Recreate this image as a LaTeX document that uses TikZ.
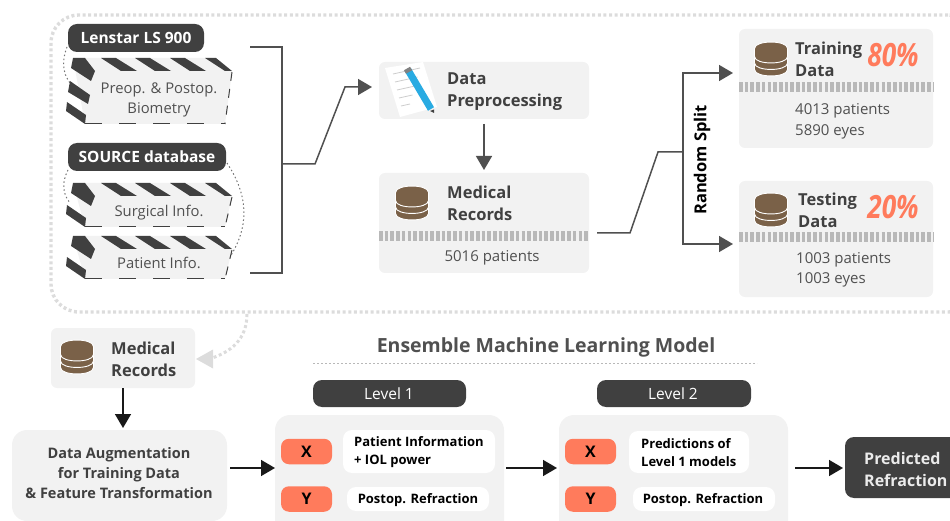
\documentclass[tikz,border=0pt]{standalone}
\usepackage{fontspec}
\setmainfont{Open Sans}
\usetikzlibrary{arrows.meta,positioning}

\definecolor{paleg}{HTML}{F2F2F2}
\definecolor{darkg}{HTML}{404040}
\definecolor{lineg}{HTML}{505050}
\definecolor{dotg}{HTML}{DCDCDC}
\definecolor{stripg}{HTML}{B8B8B8}
\definecolor{brownd}{HTML}{7A6148}
\definecolor{coral}{HTML}{FF7B5C}
\definecolor{pencil}{HTML}{29ABE2}

\tikzset{
	db icon/.pic={
		\foreach \y in {2.5,-4,-10.5}
			\path [fill=brownd,draw=white,line width=.9pt] (-16.5,\y) -- (-16.5,\y+8)
				.. controls (-16.5,\y+16.6) and (16.5,\y+16.6) .. (16.5,\y+8) -- (16.5,\y)
				.. controls (16.5,\y-8.6) and (-16.5,\y-8.6) .. cycle;
	},
	stripe card/.pic={
		\fill [paleg] (0,0) -- (139,0) -- (159,14) -- (152,#1) -- (12,#1) -- cycle;
		\foreach \x in {28,62,97}
			\fill [darkg] (\x,0) -- (\x+15,0) -- (\x+36,13) -- (\x+20,13) -- cycle;
		\fill [darkg] (132,0) -- (143,0) -- (159,13) -- (152,13) -- cycle;
		\fill [darkg] (0,0) -- (12,0) -- (22,13) -- (18,23) -- (-2,10) -- cycle;
		\fill [darkg] (-6,#1-22) -- (13,#1-9) -- (12,#1) -- (-7,#1-13) -- cycle;
		\draw [darkg,line width=1pt,dash pattern=on 17pt off 17pt] (12,#1) -- (152,#1);
		\draw [darkg,line width=1pt,dash pattern=on 9pt off 8pt] (159,14) -- (152,#1);
	}
}

\begin{document}
\begin{tikzpicture}
	[x=1pt,y=-1pt,
	pale box/.style={shape=rectangle,fill=paleg,rounded corners=6pt,inner sep=0pt,outer sep=0pt},
	big box/.style={pale box,rounded corners=15pt},
	dark pill/.style={shape=rectangle,fill=darkg,rounded corners=9pt,inner sep=0pt,outer sep=0pt,text=white},
	x pill/.style={shape=rectangle,fill=coral,rounded corners=8pt,inner sep=0pt,outer sep=0pt,minimum width=51pt,minimum height=25.5pt,font=\fontsize{16}{20}\selectfont\bfseries,text=black},
	white box/.style={shape=rectangle,fill=white,rounded corners=9pt,inner sep=0pt,outer sep=0pt},
	head text/.style={anchor=west,align=left,inner sep=0pt,text=darkg,font=\fontsize{16.5}{22}\selectfont\bfseries},
	body text/.style={anchor=west,align=left,inner sep=0pt,text=lineg,font=\fontsize{15}{20.5}\selectfont},
	card text/.style={align=center,inner sep=0pt,text=lineg,font=\fontsize{14.8}{20}\selectfont},
	small text/.style={inner sep=0pt,text=black,font=\fontsize{13}{18}\selectfont\bfseries},
	pct text/.style={inner sep=0pt,text=coral,xscale=.82,font=\fontsize{32}{32}\selectfont\bfseries\itshape},
	strip/.style={stripg,line width=10pt,dash pattern=on 3.6pt off 2.1pt},
	grey arrow/.style={lineg,line width=1.5pt,-{Triangle[length=14pt,width=16pt]}},
	black arrow/.style={black!90,line width=1.5pt,-{Triangle[length=14pt,width=16pt]}},
	fine dots/.style={lineg!80,line width=1pt,dash pattern=on 1.5pt off 2.5pt}]
	
	\path [use as bounding box,clip] (0,0) rectangle (950,521);
	
	\node [shape=rectangle,draw=dotg,line width=3.4pt,dash pattern=on 3pt off 2.6pt,rounded corners=28pt,inner sep=0pt,minimum width=925pt,minimum height=297pt] (frame) at (513.5,163.5) {};
	
	% source cards
	\draw [fine dots] (67,47) .. controls (62,60) and (62,72) .. (70,83);
	\draw [fine dots] (68,170) .. controls (62,182) and (62,193) .. (70,203);
	\draw [fine dots] (227,163) .. controls (248,195) and (250,225) .. (230,257);
	\pic at (73,58) {stripe card=66};
	\fill [darkg] (70,81) -- (90,95) -- (88,104) -- (68,92) -- cycle;
	\pic at (73,183) {stripe card=44};
	\pic at (73,236) {stripe card=43};
	\node [dark pill,minimum width=136pt,minimum height=28pt] (lenstar) at (136,38) {};
	\node [inner sep=0pt,text=white,font=\fontsize{15.5}{20}\selectfont\bfseries] (lenstarT) at (136,38) {Lenstar LS 900};
	\node [dark pill,minimum width=158pt,minimum height=28pt] (source) at (147,157) {};
	\node [inner sep=0pt,text=white,font=\fontsize{15.5}{20}\selectfont\bfseries] (sourceT) at (147,157) {SOURCE database};
	\node [card text] (bio) at (159,99.5) {Preop. \& Postop.\\Biometry};
	\node [card text] (surg) at (159,213) {Surgical Info.};
	\node [card text] (pat) at (159,263) {Patient Info.};
	
	\coordinate (b1) at (250,47);
	\coordinate (b2) at (282,47);
	\coordinate (b3) at (282,273);
	\coordinate (b4) at (250,273);
	\coordinate (bm) at (282,164);
	\coordinate (bk) at (315,164);
	\coordinate (bt) at (345,87);
	\coordinate (bz) at (372,87);
	\draw [lineg,line width=1.5pt] (b1) -- (b2) -- (b3) -- (b4);
	\draw [grey arrow] (bm) -- (bk) -- (bt) -- (bz);
	
	% data preprocessing
	\node [pale box,minimum width=210pt,minimum height=57pt] (prep) at (484,90.5) {};
	\fill [white] (385,68) -- (423,62) -- (437,107) -- (400,117) -- cycle;
	\foreach \i in {0,1,2,3,4}
		\draw [black!20,line width=.8pt] (393+\i*2,74+\i*8) -- (420+\i*.5-\i*3,68+\i*9);
	\draw [pencil,line width=7pt] (408,70) -- (431,109);
	\draw [stripg!70!black,line width=7pt] (407,68.5) -- (409,72);
	\fill [darkg] (430,111) -- (434,109.5) -- (434,113) -- cycle;
	\node [head text] (prepT) at (447,91.5) {Data\\Preprocessing};
	
	% medical records
	\node [pale box,minimum width=210pt,minimum height=100pt] (rec) at (484,223) {};
	\draw [strip] (379,236.5) -- (589,236.5);
	\pic at (412,203) {db icon};
	\node [head text] (recT) at (447,203) {Medical\\Records};
	\node [body text,anchor=center] (recN) at (492,257.5) {5016 patients};
	\path [grey arrow] (prep) edge [shorten <=5pt,shorten >=3pt] (rec);
	
	% split
	\coordinate (s1) at (597,233);
	\coordinate (s2) at (630,233);
	\coordinate (s3) at (658,152);
	\coordinate (s4) at (683,152);
	\coordinate (s5) at (683,73);
	\coordinate (s6) at (683,244);
	\coordinate (s7) at (733,73);
	\coordinate (s8) at (733,244);
	\draw [lineg,line width=1.5pt] (s1) -- (s2) -- (s3) -- (s4);
	\node [pale box,minimum width=194pt,minimum height=119pt] (train) at (836,88.5) {};
	\node [pale box,minimum width=194pt,minimum height=116pt] (test) at (836,239) {};
	\draw [grey arrow] (s4) -- (s5) -- (s7);
	\draw [grey arrow] (s4) -- (s6) -- (s8);
	\node [rotate=90,inner sep=0pt,text=black,font=\fontsize{16.5}{20}\selectfont\bfseries] (split) at (702,160) {Random Split};
	
	\draw [strip] (739,87) -- (933,87);
	\pic at (771,59) {db icon};
	\node [head text] (trainT) at (795,59) {Training\\Data};
	\node [pct text] (p80) at (893,55) {80\%};
	\node [body text] (trainN) at (795,121.5) {4013 patients\\5890 eyes};
	
	\draw [strip] (739,237) -- (933,237);
	\pic at (771,210) {db icon};
	\node [head text] (testT) at (798,210) {Testing\\Data};
	\node [pct text] (p20) at (893,207) {20\%};
	\node [body text] (testN) at (796,270) {1003 patients\\1003 eyes};
	
	% lower part
	\node [pale box,minimum width=144pt,minimum height=60pt] (rec2) at (123,358) {};
	\pic at (77,357) {db icon};
	\node [head text] (rec2T) at (111,359) {Medical\\Records};
	\coordinate (d1) at (247,314);
	\coordinate (d2) at (212,358);
	\draw [dotg,line width=3pt,dash pattern=on 3pt off 2.6pt] (d1) .. controls (247,340) and (230,352) .. (d2);
	\fill [dotg] (196,359) -- (213,349.5) -- (213,368.5) -- cycle;
	
	\node [big box,minimum width=215pt,minimum height=91pt] (aug) at (119.5,475.5) {};
	\node [align=center,inner sep=0pt,text=darkg,font=\fontsize{14.5}{20}\selectfont\bfseries] (augT) at (119,473) {Data Augmentation\\for Training Data\\\& Feature Transformation};
	\path [black arrow] (rec2) edge [shorten >=2pt] (rec2 |- aug.north);
	
	\node [inner sep=0pt,text=lineg,font=\fontsize{19.5}{24}\selectfont\bfseries] (title) at (546,347.5) {Ensemble Machine Learning Model};
	\coordinate (t1) at (313,363);
	\coordinate (t2) at (757,363);
	\draw [stripg,line width=1pt,dash pattern=on 2pt off 2pt] (t1) -- (t2);
	
	\node [dark pill,minimum width=153pt,minimum height=27pt] (lv1) at (389.5,393.5) {};
	\node [inner sep=0pt,text=white,font=\fontsize{15.5}{20}\selectfont] (lv1T) at (389,393.5) {Level 1};
	\node [big box,minimum width=229pt,minimum height=130pt] (m1) at (389.5,480) {};
	\node [x pill] (x1) at (306.5,451.5) {X};
	\node [x pill] (y1) at (306.5,499) {Y};
	\node [white box,minimum width=152pt,minimum height=43pt] (w1) at (419,451.5) {};
	\node [small text,anchor=west,align=left] (w1T) at (354,452.5) {Patient Information\\+ IOL power};
	\node [white box,minimum width=142pt,minimum height=24pt] (w2) at (418,499) {};
	\node [small text] (w2T) at (418,500) {Postop. Refraction};
	
	\node [dark pill,minimum width=154pt,minimum height=27pt] (lv2) at (674,393.5) {};
	\node [inner sep=0pt,text=white,font=\fontsize{15.5}{20}\selectfont] (lv2T) at (673,393.5) {Level 2};
	\node [big box,minimum width=229pt,minimum height=130pt] (m2) at (673.5,480) {};
	\node [x pill] (x2) at (590.5,451.5) {X};
	\node [x pill] (y2) at (590.5,499) {Y};
	\node [white box,minimum width=120pt,minimum height=42pt] (w3) at (689,452) {};
	\node [small text,anchor=west,align=left] (w3T) at (641,452.5) {Predictions of\\Level 1 models};
	\node [white box,minimum width=142pt,minimum height=24pt] (w4) at (704,499) {};
	\node [small text] (w4T) at (703,500) {Postop. Refraction};
	
	\node [dark pill,minimum width=120pt,minimum height=61pt] (pred) at (905,467.5) {};
	\node [anchor=west,align=left,inner sep=0pt,text=white!92!black,font=\fontsize{16}{22}\selectfont\bfseries] (predT) at (864,469) {Predicted\\Refraction};
	
	\coordinate (a1) at (230,468);
	\coordinate (a2) at (275,468);
	\coordinate (a3) at (506,468);
	\coordinate (a4) at (557,468);
	\coordinate (a5) at (795,468);
	\coordinate (a6) at (843,468);
	\draw [black arrow] (a1) -- (a2);
	\draw [black arrow] (a3) -- (a4);
	\draw [black arrow] (a5) -- (a6);
	
\end{tikzpicture}
\end{document}
